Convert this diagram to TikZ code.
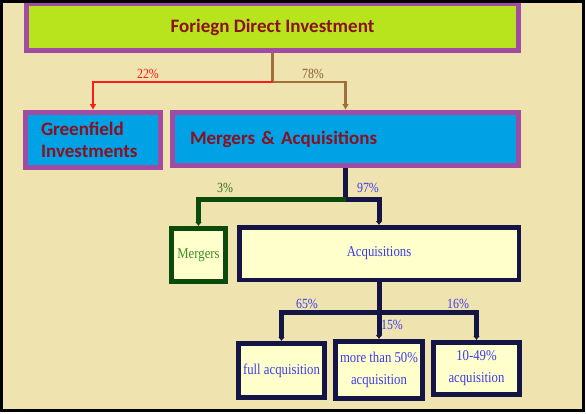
\documentclass[tikz,border=0pt]{standalone}
\usepackage{fontspec}
\usetikzlibrary{arrows.meta}
\newfontfamily\boxfont{Carlito}
\newfontfamily\narrowfont[FakeStretch=0.85]{Liberation Serif}
\definecolor{bgtan}{HTML}{EFE3B0}
\definecolor{limegreen}{HTML}{B8E41E}
\definecolor{boxpurple}{HTML}{A24BA3}
\definecolor{skyblue}{HTML}{00A2E6}
\definecolor{titlered}{HTML}{8B1020}
\definecolor{navy}{HTML}{141446}
\definecolor{dkgreen}{HTML}{0A4A0A}
\definecolor{paleyellow}{HTML}{FFFFCC}
\definecolor{inkblue}{HTML}{3C3CF0}
\definecolor{inkgreen}{HTML}{3C8C28}
\definecolor{arrowred}{HTML}{FF1A1A}
\definecolor{arrowbrown}{HTML}{A0703C}

\begin{document}
\begin{tikzpicture}[x=1pt, y=-1pt, >=Latex,
  bigbox/.style={draw=boxpurple, line width=5pt, inner sep=0pt,
    font=\boxfont\bfseries\fontsize{19}{22}\selectfont, text=titlered},
  smallbox/.style={draw=navy, line width=4.5pt, fill=paleyellow, inner sep=0pt,
    align=center, font=\narrowfont\fontsize{15}{22}\selectfont, text=inkblue},
  pct/.style={inner sep=0pt, font=\narrowfont\fontsize{14}{16}\selectfont},
  thinlink/.style={line width=2.2pt, -{Latex[length=6pt,width=7pt]}},
  thicklink/.style={line width=5pt, -{Latex[length=4pt,width=7pt]}}]

\useasboundingbox (0,0) rectangle (586,413);

%==================================================
% Background
%==================================================
\fill[bgtan] (1.5,1.5) rectangle (583.5,410.5);

%==================================================
% Top level
%==================================================
\node[bigbox, fill=limegreen, minimum width=492, minimum height=47]
  (fdi) at (272.5,27) {Foriegn Direct Investment};

\node[bigbox, fill=skyblue, align=left, text width=104, inner xsep=15.5,
  minimum height=55] (green) at (93,140) {Greenfield\\Investments};

\node[bigbox, fill=skyblue, align=left, text width=311, inner xsep=17.5,
  minimum height=53] (ma) at (345.5,139) {Mergers \& Acquisitions};

\coordinate (fdisplit) at (272.5,82);

\draw[line width=2.2pt, arrowbrown] (fdi.south) -- (fdisplit);
\draw[thinlink, arrowred] (fdisplit) -| (green.north);
\draw[thinlink, arrowbrown] (fdisplit) -| (ma.north);

\node[pct, text=arrowred] (p22) at (148,73.5) {22\%};
\node[pct, text=arrowbrown!85!black] (p78) at (313,73.5) {78\%};

%==================================================
% Second level
%==================================================
\node[smallbox, draw=dkgreen, line width=5pt, text=inkgreen,
  minimum width=54, minimum height=53] (mergers) at (198.5,255) {Mergers};

\node[smallbox, minimum width=279.5, minimum height=52.5]
  (acq) at (379,253.5) {Acquisitions};

\coordinate (masplit) at (345.5,199);

\draw[line width=5pt, navy] (ma.south) -- (masplit);
\draw[thicklink, dkgreen] (masplit) -| (mergers.north);
\draw[thicklink, navy] (masplit) -| (acq.north);

\node[pct, text=inkgreen!80!black] (p3) at (225,188) {3\%};
\node[pct, text=inkblue] (p97) at (368,188) {97\%};

%==================================================
% Third level
%==================================================
\node[smallbox, line width=5pt, minimum width=86, minimum height=54]
  (full) at (281.5,370.5) {full acquisition};
\node[smallbox, line width=5pt, minimum width=87, minimum height=57]
  (more) at (379,370) {more than 50\%\\acquisition};
\node[smallbox, line width=5pt, minimum width=86, minimum height=52]
  (part) at (476.5,368.5) {10-49\%\\acquisition};

\coordinate (acqsplit) at (379,312);

\draw[line width=5pt, navy] (acq.south) -- (acqsplit);
\foreach \b in {full,more,part}{
  \draw[thicklink, navy] (acqsplit) -| (\b.north);
}

\node[pct, text=inkblue] (p65) at (307,304) {65\%};
\node[pct, text=inkblue] (p15) at (392,325) {15\%};
\node[pct, text=inkblue] (p16) at (458,304) {16\%};

%==================================================
% Frame
%==================================================
\draw[line width=3pt, black] (1.5,1.5) rectangle (583.5,410.5);

\end{tikzpicture}
\end{document}
